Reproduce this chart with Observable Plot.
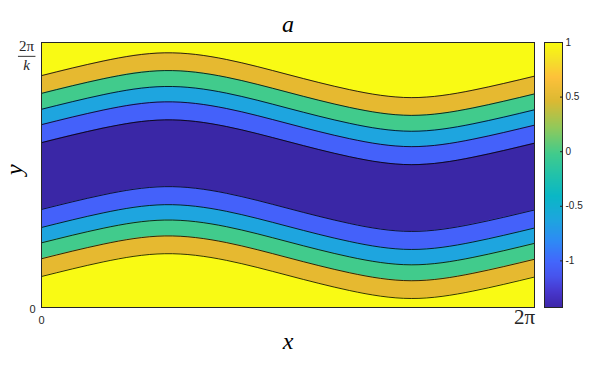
<!DOCTYPE html>
<html><head><meta charset="utf-8">
<script src="https://cdn.jsdelivr.net/npm/d3@7"></script>
<script src="https://cdn.jsdelivr.net/npm/@observablehq/plot@0.6"></script>
<style>
html,body{margin:0;padding:0;background:#fff;}
#wrap{position:relative;width:602px;height:371px;}
#wrap svg{position:absolute;left:0;top:0;}
</style></head><body><div id="wrap"></div>
<script>
const PI = Math.PI;
// x sample positions of the contour lines, in multiples of π
const xSamples = [0, 0.25, 0.5, 0.75, 1, 1.25, 1.5, 1.75, 2];
// centre line of the band pattern (y in units of 2π/k)
const centreLine = [0.496, 0.551, 0.582, 0.557, 0.500, 0.443, 0.413, 0.441, 0.494];
// half-widths of the nested bands (units of 2π/k), innermost first
const halfWidths = [0.126, 0.194, 0.252, 0.312, 0.379];
// band fill colours, innermost first; outside colour separately
const bandColors = ["#3A27A6", "#4461FA", "#1EA5DF", "#41CB8C", "#E6B930"];
const outsideColor = "#F9FA14";
// axis labels
const titleText = "a";
const xLabel = "x";
const yLabel = "y";
const xTickValues = [0, 2 * PI];
const xTickLabels = ["0", "2π"];
const yTickValues = [0, 1];
const yTickLabels = ["0", "2π\nk"];
// colorbar
const cbTicks = [-1, -0.5, 0, 0.5, 1];
const cbDomain = [-1.427, 1];
const parulaStops = [0, 0.06, 0.12, 0.17, 0.25, 0.33, 0.42, 0.5, 0.58, 0.68, 0.78, 0.87, 0.93, 1];
const parulaColors = ["#3E26A8", "#4737CD", "#4755EE", "#4365FC", "#2E8AF5", "#1EA5DF", "#0AB7C6", "#22C2AA", "#41CB8C", "#92C95A", "#DCB932", "#FEC13A", "#F5DF2A", "#F9FB0E"];

const rows = [];
halfWidths.forEach((h, b) => xSamples.forEach((s, j) =>
  rows.push({band: b, x: s * PI, lo: centreLine[j] - h, hi: centreLine[j] + h})));
const outerFirst = d3.range(halfWidths.length).reverse();

const serif = "'Liberation Serif', 'DejaVu Serif', serif";
const sans = "'Liberation Sans', Arial, sans-serif";

const main = Plot.plot({
  width: 602, height: 371,
  marginLeft: 41, marginRight: 68, marginTop: 42, marginBottom: 64,
  style: {background: "none", overflow: "visible", color: "#262626"},
  x: {domain: [0, 2 * PI], axis: null, label: null},
  y: {domain: [0, 1], axis: null, label: null},
  marks: [
    Plot.frame({fill: outsideColor}),
    ...outerFirst.map(b => Plot.areaY(rows.filter(r => r.band === b),
      {x: "x", y1: "lo", y2: "hi", fill: bandColors[b], curve: "natural"})),
    Plot.line(rows, {x: "x", y: "lo", z: "band", stroke: "#000", strokeWidth: 0.8, curve: "natural"}),
    Plot.line(rows, {x: "x", y: "hi", z: "band", stroke: "#000", strokeWidth: 0.8, curve: "natural"}),
    Plot.frame({stroke: "#262626", strokeWidth: 1}),
    Plot.axisX([xTickValues[0]], {label: null, tickSize: 0, tickPadding: 9, fontSize: 11, fontFamily: sans, tickFormat: () => xTickLabels[0]}),
    Plot.axisX([xTickValues[1]], {label: null, tickSize: 0, tickPadding: 2, dx: -10, fontSize: 21, fontFamily: serif, tickFormat: () => xTickLabels[1]}),
    Plot.axisY([yTickValues[0]], {label: null, tickSize: 0, tickPadding: 6, dy: 2, fontSize: 11, fontFamily: sans, tickFormat: () => yTickLabels[0]}),
    Plot.axisY([yTickValues[1]], {label: null, tickSize: 0, tickPadding: 15, dy: 12, textAnchor: "middle", lineHeight: 1.22, fontSize: 15, fontFamily: serif, tickFormat: () => yTickLabels[1]}),
    Plot.text([titleText], {text: d => d, frameAnchor: "top", lineAnchor: "middle", dy: -18, fontSize: 24, fontStyle: "italic", fontFamily: serif, fill: "#000"}),
    Plot.text([xLabel], {text: d => d, frameAnchor: "bottom", lineAnchor: "middle", dy: 34, fontSize: 24, fontStyle: "italic", fontFamily: serif, fill: "#000"}),
    Plot.text([yLabel], {text: d => d, frameAnchor: "left", lineAnchor: "middle", dx: -27, rotate: -90, fontSize: 24, fontStyle: "italic", fontFamily: serif, fill: "#000"})
  ]
});

const cb = Plot.plot({
  width: 602, height: 371,
  marginLeft: 544, marginRight: 40, marginTop: 42, marginBottom: 64,
  style: {background: "none", overflow: "visible", color: "#262626"},
  x: {domain: [0, 1], axis: null, label: null},
  y: {domain: cbDomain, axis: null, label: null},
  color: {type: "linear", domain: parulaStops.map(t => cbDomain[0] + t * (cbDomain[1] - cbDomain[0])), range: parulaColors, interpolate: "rgb"},
  marks: [
    Plot.raster({fill: (x, y) => y, x1: 0, x2: 1, y1: cbDomain[0], y2: cbDomain[1], width: 2, height: 265}),
    Plot.frame({stroke: "#262626", strokeWidth: 1}),
    Plot.axisY(cbTicks, {anchor: "right", label: null, tickSize: -3, tickPadding: 6, fontSize: 10, fontFamily: sans, tickFormat: d => String(d)})
  ]
});

const wrap = document.getElementById("wrap");
wrap.append(main, cb);

// fraction bar (and italic k) for the 2π/k tick label
d3.select(main).selectAll("text").each(function() {
  const spans = this.querySelectorAll("tspan");
  if (spans.length === 2 && spans[1].textContent === "k") {
    spans[1].setAttribute("font-style", "italic");
    const a = spans[0].getBoundingClientRect();
    const b = spans[1].getBoundingClientRect();
    const yMid = (a.bottom + b.top) / 2 + 1;
    d3.select(main).append("line")
      .attr("x1", a.left - 1).attr("x2", a.right + 1)
      .attr("y1", yMid).attr("y2", yMid)
      .attr("stroke", "#000").attr("stroke-width", 0.8);
  }
});
</script></body></html>
